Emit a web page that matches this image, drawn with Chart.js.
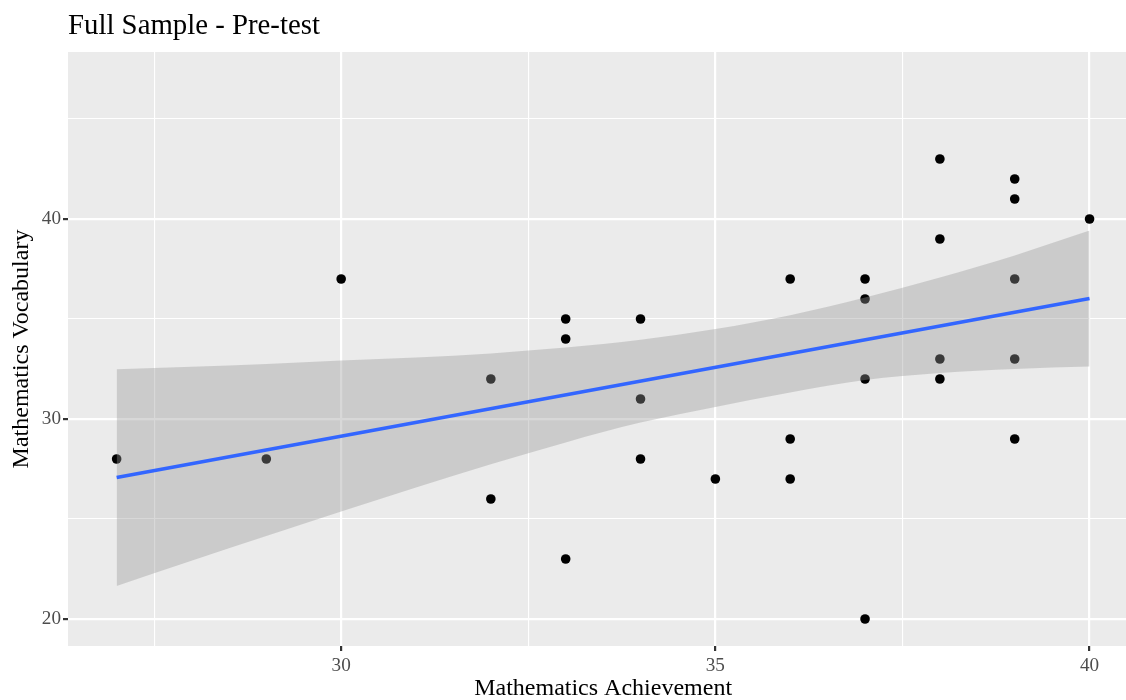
<!DOCTYPE html>
<html>
<head>
<meta charset="utf-8">
<script src="https://cdn.jsdelivr.net/npm/chart.js@4.4.1/dist/chart.umd.min.js"></script>
<style>
  html, body { margin: 0; padding: 0; background: #fff; }
  #wrap { width: 1126px; height: 700px; overflow: hidden; position: relative; }
  canvas { display: block; }
</style>
</head>
<body>
<div id="wrap"><canvas id="chart" width="1143" height="700"></canvas></div>
<script>
// observed points
const pointsX = [27, 29, 30, 32, 32, 33, 33, 33, 34, 34, 34, 35, 36, 36, 36, 37, 37, 37, 37, 38, 38, 38, 38, 39, 39, 39, 39, 39, 40];
const pointsY = [28, 28, 37, 32, 26, 35, 34, 23, 35, 31, 28, 27, 37, 29, 27, 37, 36, 32, 20, 43, 39, 33, 32, 42, 41, 37, 33, 29, 40];

// fitted line ends and confidence band
const fitX = [27, 40];
const fitY = [27.07, 36.02];
const bandX = [27, 28, 29, 30, 31, 32, 33, 34, 35, 36, 37, 38, 39, 40];
const bandUpper = [32.49, 32.61, 32.75, 32.92, 33.07, 33.28, 33.57, 33.96, 34.5, 35.19, 36.07, 37.08, 38.18, 39.42];
const bandLower = [21.65, 22.91, 24.15, 25.37, 26.57, 27.74, 28.83, 29.82, 30.6, 31.33, 31.95, 32.3, 32.5, 32.62];

const xTicks = [27.5, 30, 32.5, 35, 37.5, 40];
const yTicks = [20, 25, 30, 35, 40, 45];
const xMajor = [30, 35, 40];
const yMajor = [20, 30, 40];

const SERIF = "'Liberation Serif', 'Times New Roman', serif";

const zip = (xs, ys) => xs.map((x, i) => ({x: x, y: ys[i]}));

const panelBg = {
    id: 'panelBg',
    beforeDraw(chart) {
        const {ctx, chartArea: a} = chart;
        ctx.save();
        ctx.fillStyle = '#EBEBEB';
        ctx.fillRect(a.left, a.top, a.right - a.left, a.bottom - a.top);
        ctx.restore();
    }
};

const plotTitle = {
    id: 'plotTitle',
    afterDraw(chart) {
        const ctx = chart.ctx;
        ctx.save();
        ctx.font = '28.8px ' + SERIF;
        ctx.fillStyle = '#000';
        ctx.textBaseline = 'alphabetic';
        ctx.textAlign = 'left';
        ctx.fillText('Full Sample - Pre-test', chart.chartArea.left, 34);
        ctx.restore();
    }
};

function gridStyle(majors) {
    return {
        color: '#FFFFFF',
        lineWidth: (c) => (c.tick && majors.includes(c.tick.value)) ? 2.2 : 1.1,
        drawTicks: true,
        tickLength: 5,
        tickWidth: 2.2,
        tickColor: (c) => (c.tick && majors.includes(c.tick.value)) ? '#333333' : 'rgba(0,0,0,0)'
    };
}

new Chart(document.getElementById('chart'), {
    type: 'scatter',
    data: {
        datasets: [
            {
                label: 'points',
                data: zip(pointsX, pointsY),
                backgroundColor: '#000',
                borderWidth: 0,
                pointRadius: 4.8,
                order: 3
            },
            {
                type: 'line',
                label: 'upper',
                data: zip(bandX, bandUpper),
                borderWidth: 0,
                borderColor: 'rgba(0,0,0,0)',
                pointRadius: 0,
                cubicInterpolationMode: 'monotone',
                fill: '+1',
                backgroundColor: 'rgba(153,153,153,0.38)',
                order: 2
            },
            {
                type: 'line',
                label: 'lower',
                data: zip(bandX, bandLower),
                borderWidth: 0,
                borderColor: 'rgba(0,0,0,0)',
                pointRadius: 0,
                cubicInterpolationMode: 'monotone',
                fill: false,
                order: 2
            },
            {
                type: 'line',
                label: 'fit',
                data: zip(fitX, fitY),
                borderColor: '#3366FF',
                borderWidth: 3.6,
                pointRadius: 0,
                fill: false,
                order: 1
            }
        ]
    },
    options: {
        responsive: false,
        animation: false,
        devicePixelRatio: 1,
        layout: { padding: { top: 52, left: 0, right: 0, bottom: 0 } },
        plugins: {
            legend: { display: false },
            tooltip: { enabled: false },
            title: { display: false }
        },
        scales: {
            x: {
                type: 'linear',
                min: 26.35,
                max: 40.65,
                afterBuildTicks: (s) => { s.ticks = xTicks.map(v => ({value: v})); },
                afterFit: (s) => { s.height = 54; },
                border: { display: false },
                grid: gridStyle(xMajor),
                ticks: {
                    autoSkip: false,
                    maxRotation: 0,
                    padding: 3,
                    color: '#4D4D4D',
                    font: { family: SERIF, size: 19.2 },
                    callback: (v) => xMajor.includes(v) ? String(v) : ''
                },
                title: {
                    display: true,
                    text: 'Mathematics Achievement',
                    color: '#000',
                    font: { family: SERIF, size: 24, lineHeight: 0.9 },
                    padding: { top: 0, bottom: 0 }
                }
            },
            y: {
                type: 'linear',
                min: 18.65,
                max: 48.35,
                afterBuildTicks: (s) => { s.ticks = yTicks.map(v => ({value: v})); },
                afterFit: (s) => { s.width = 68; },
                border: { display: false },
                grid: gridStyle(yMajor),
                ticks: {
                    autoSkip: false,
                    padding: 2,
                    color: '#4D4D4D',
                    font: { family: SERIF, size: 19.2 },
                    callback: (v) => yMajor.includes(v) ? String(v) : ''
                },
                title: {
                    display: true,
                    text: 'Mathematics Vocabulary',
                    color: '#000',
                    font: { family: SERIF, size: 24 },
                    padding: { top: 7.6, bottom: 0 }
                }
            }
        }
    },
    plugins: [panelBg, plotTitle]
});
</script>
</body>
</html>
